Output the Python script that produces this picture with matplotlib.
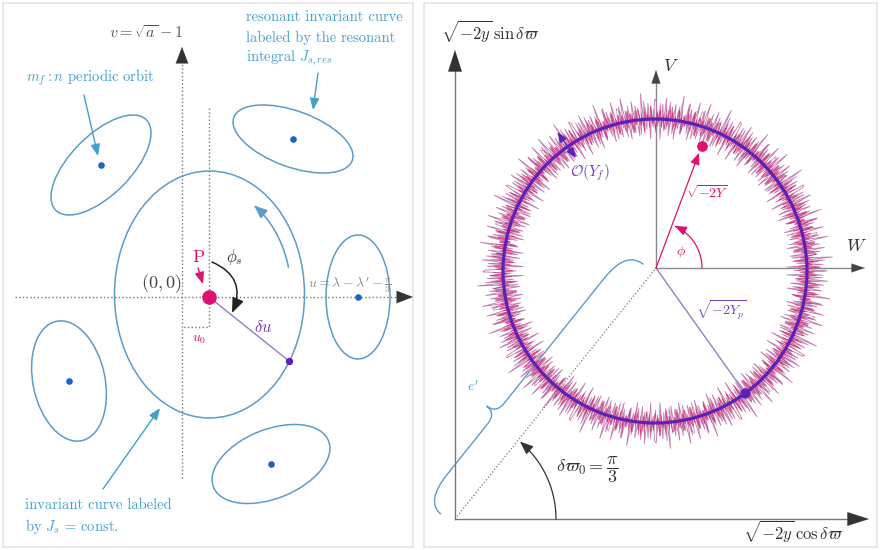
import matplotlib.pyplot as plt
import numpy as np
from matplotlib.patches import Ellipse, Rectangle, Circle, PathPatch
from matplotlib.path import Path

plt.rcParams['mathtext.fontset'] = 'cm'
plt.rcParams['font.family'] = ['cmr10', 'DejaVu Serif']

# ---- left panel geometry (pixel units, y down) ----
origin_l = (182, 297)
p_point = (209, 297)
big_ell = (209.5, 294.5, 190, 247)          # cx, cy, width, height
du_end = (289, 361)
res_x = [101, 293, 358, 69, 271]            # m_f:n periodic orbits
res_y = [165, 139, 297, 381, 464]
res_w = [128, 126, 64, 122, 124]
res_h = [60, 56, 124, 72, 69]
res_ang = [-45, 20, 0, 78, -22]

# ---- right panel geometry ----
origin_r = (455, 519)
center_r = (656, 268)
ring_c = (655, 271)
ring_r = 152
yf_angle, yf_r = 69.5, 130                  # magenta point
yp_angle = -53.6                            # purple point on the ring
noise = [0.9, -0.5, 0.3, -1.1, 0.7, -0.2, 0.5, -0.8, 1.2, -0.4, 0.15, -0.9, 0.6,
         -0.3, 0.85, -0.7, 0.25, -1.0, 0.4, -0.55, 1.1, -0.1, 0.7, -0.8, 0.3, -0.65,
         1.0, -0.2, 0.45, -0.95, 0.6, -0.35, 0.8, -0.3, 0.2, -0.75, 1.15, -0.5, 0.4,
         -1.05, 0.7, -0.15, 0.55, -0.9, 0.35, -0.6, 0.95, -0.25, 0.65, -1.1, 0.3,
         -0.45, 0.8]

blue_line = '#5b9cc6'
blue_txt = '#43a0cc'
blue_dot = '#1b62c2'
magenta = '#e0106e'
purple = '#5a22b8'
lpurple = '#9a7cc8'
grey = '#555555'

fig = plt.figure(figsize=(8.8, 5.5), dpi=100)
ax = fig.add_axes([0, 0, 1, 1])
ax.set_xlim(0, 880)
ax.set_ylim(550, 0)
ax.axis('off')

for x0, w in [(3, 410), (424, 453)]:
    ax.add_patch(Rectangle((x0, 3), w, 544, fill=False, ec='#e4e4e4', lw=1.2))


def arrow(tail, tip, color, lw=1.0, hl=1.0, hw=0.4, ms=8, conn='arc3', style='-|>'):
    ax.annotate('', xy=tip, xytext=tail,
                arrowprops=dict(arrowstyle=f'{style},head_length={hl},head_width={hw}',
                                color=color, lw=lw, mutation_scale=ms,
                                shrinkA=0, shrinkB=0, connectionstyle=conn))


def arc_pts(c, rx, ry, t0, t1, n=80):
    t = np.radians(np.linspace(t0, t1, n))
    return c[0] + rx * np.cos(t), c[1] - ry * np.sin(t)


def arc_arrow(c, rx, ry, t0, t1, color, lw=1.0, hl=1.0, hw=0.4, ms=8):
    x, y = arc_pts(c, rx, ry, t0, t1)
    ax.plot(x[:-3], y[:-3], color=color, lw=lw)
    arrow((x[-4], y[-4]), (x[-1], y[-1]), color, lw=lw, hl=hl, hw=hw, ms=ms)


# ================= left panel =================
# dotted axes
ax.plot([origin_l[0], origin_l[0]], [478, 60], ls=':', color='#777', lw=1.0)
arrow((origin_l[0], 62), (origin_l[0], 47), '#333', lw=0.1, hl=1.3, hw=0.5, ms=9)
ax.plot([15, 400], [origin_l[1], origin_l[1]], ls=':', color='#777', lw=1.0)
arrow((398, origin_l[1]), (413, origin_l[1]), '#333', lw=0.1, hl=1.3, hw=0.5, ms=9)
ax.plot([p_point[0], p_point[0], origin_l[0]], [108, 327, 327], ls=':', color='#777', lw=1.0)

# invariant curves
ax.add_patch(Ellipse(big_ell[:2], big_ell[2], big_ell[3], fill=False, ec=blue_line, lw=1.1))
for x, y, w, h, a in zip(res_x, res_y, res_w, res_h, res_ang):
    ax.add_patch(Ellipse((x, y), w, h, angle=a, fill=False, ec=blue_line, lw=1.1))
ax.scatter(res_x, res_y, s=14, color=blue_dot, zorder=5)

# flow direction inside the big curve
arc_arrow(big_ell[:2], 0.86 * big_ell[2] / 2, 0.86 * big_ell[3] / 2, 15, 57, blue_line, lw=1.1)

# P, delta u, phi_s
ax.plot([p_point[0], du_end[0]], [p_point[1], du_end[1]], color=lpurple, lw=1.0)
ax.scatter(*du_end, s=18, color=purple, zorder=5)
ax.scatter(*p_point, s=90, color=magenta, zorder=6)
arrow((212, 262), (232, 313), '#222', lw=1.1, conn='arc3,rad=-0.5', ms=9)
arrow((198, 268), (203, 284), magenta, lw=1.0, ms=7)

ax.text(183, 33, r'$v=\sqrt{a}-1$', ha='right', va='center', color=grey, fontsize=11.5)
ax.text(26, 78, r'$m_f:n$ periodic orbit', color=blue_txt, fontsize=10.5, va='center')
for i, s in enumerate(['resonant invariant curve', 'labeled by the resonant',
                       r'integral $J_{s,res}$']):
    ax.text(246, 17 + 20.5 * i, s, color=blue_txt, fontsize=10.5, va='center')
for i, s in enumerate(['invariant curve labeled', r'by $J_s$ = const.']):
    ax.text(25, 505 + 22 * i, s, color=blue_txt, fontsize=10.5, va='center')
arrow((84, 95), (98, 156), blue_txt, lw=1.0, ms=7)
arrow((318, 73), (313, 110), blue_txt, lw=1.0, ms=7)
arrow((103, 489), (160, 408), blue_txt, lw=1.0, ms=7)

ax.text(161, 284, r'$(0,0)$', ha='center', va='center', color='#444', fontsize=13)
ax.text(350, 285, r"$u=\lambda-\lambda'-\frac{\pi}{3}$", ha='center', va='center',
        color='#888', fontsize=10)
ax.text(198, 257, 'P', ha='center', va='center', color=magenta, fontsize=13)
ax.text(234, 257, r'$\phi_s$', ha='center', va='center', color='#333', fontsize=12)
ax.text(199, 340, r'$u_0$', ha='center', va='center', color=magenta, fontsize=10)
ax.text(263, 327, r'$\delta u$', ha='center', va='center', color='#7a3ab0', fontsize=12)

# ================= right panel =================
ox, oy = origin_r
cx, cy = center_r
ax.plot([ox, ox], [oy, 62], color='#777', lw=1.0)
arrow((ox, 70), (ox, 50), '#333', lw=0.1, hl=1.4, hw=0.45, ms=11)
ax.plot([ox, 852], [oy, oy], color='#777', lw=1.0)
arrow((850, oy), (869, oy), '#333', lw=0.1, hl=1.4, hw=0.45, ms=11)
ax.plot([cx, cx], [cy, 78], color='#888', lw=1.0)
arrow((cx, 80), (cx, 70), '#444', lw=0.1, hl=1.2, hw=0.4, ms=8)
ax.plot([cx, 856], [cy, cy], color='#888', lw=1.0)
arrow((855, cy), (865, cy), '#444', lw=0.1, hl=1.2, hw=0.4, ms=8)
ax.plot([ox, cx], [oy, cy], ls=':', color='#777', lw=0.9)

# noisy orbit around the ring
nz = np.array(noise)
reps = 12
n = len(nz) * reps
th = np.linspace(0, 2 * np.pi, n)
ra = ring_r + 2 + 20 * np.tile(nz, reps)
ax.plot(ring_c[0] + ra * np.cos(th), ring_c[1] - ra * np.sin(th), color='#c477ad', lw=0.6)
rc = ring_r + 1 + 15 * np.roll(np.tile(nz, reps), 23)
ax.plot(ring_c[0] + rc * np.cos(th + 0.005), ring_c[1] - rc * np.sin(th + 0.005),
        color='#b35a9c', lw=0.5, alpha=0.8)
rb = ring_r + 11 * np.roll(np.tile(nz[::-1], reps), 11)
ax.plot(ring_c[0] + rb * np.cos(th + 0.003), ring_c[1] - rb * np.sin(th + 0.003),
        color='#d81c66', lw=0.5, alpha=0.8)
ax.add_patch(Circle(ring_c, ring_r, fill=False, ec=purple, lw=2.3, zorder=4))

# Y vector and phase angle
a = np.radians(yf_angle)
pm = (cx + yf_r * np.cos(a), cy - yf_r * np.sin(a))
arrow((cx, cy), (cx + (yf_r - 7) * np.cos(a), cy - (yf_r - 7) * np.sin(a)), magenta, lw=0.9, ms=7)
ax.scatter(*pm, s=45, color=magenta, zorder=6)
arc_arrow((cx, cy), 46, 46, 0, 66, magenta, lw=0.9, ms=7)

b = np.radians(yp_angle)
pp = (ring_c[0] + ring_r * np.cos(b), ring_c[1] - ring_r * np.sin(b))
ax.plot([cx, pp[0]], [cy, pp[1]], color=lpurple, lw=1.0)
ax.scatter(*pp, s=40, color=purple, zorder=6)

# O(Y_f) width marker
g = np.radians(126)
arrow((cx + 136 * np.cos(g), cy - 136 * np.sin(g)), (cx + 168 * np.cos(g), cy - 168 * np.sin(g)),
      purple, lw=1.0, ms=6, style='<|-|>')

# e' brace along the dotted line
L = np.hypot(cx - ox, cy - oy)
u = np.array([cx - ox, cy - oy]) / L
nv = np.array([u[1], -u[0]])
brace_st = [(-5, 14), (-5, 34), (30, 34), (95, 34), (108, 34), (108, 46),
            (108, 34), (121, 34), (L - 40, 34), (L - 5, 34), (L - 5, 12)]
codes = [Path.MOVETO, Path.CURVE3, Path.CURVE3, Path.LINETO, Path.CURVE3, Path.CURVE3,
         Path.CURVE3, Path.CURVE3, Path.LINETO, Path.CURVE3, Path.CURVE3]
verts = [(ox + s * u[0] + t * nv[0], oy + s * u[1] + t * nv[1]) for s, t in brace_st]
ax.add_patch(PathPatch(Path(verts, codes), fill=False, ec=blue_line, lw=1.0))

arc_arrow((ox, oy), 101, 101, 0, 50, '#333', lw=0.9, ms=8)

ax.text(441, 32, r'$\sqrt{-2y}\,\sin\delta\varpi$', ha='left', va='center', color='#333', fontsize=12)
ax.text(843, 532, r'$\sqrt{-2y}\,\cos\delta\varpi$', ha='right', va='center', color='#333', fontsize=12)
ax.text(671, 66, r'$V$', ha='center', va='center', color='#333', fontsize=13)
ax.text(856, 246, r'$W$', ha='center', va='center', color='#333', fontsize=13)
ax.text(590, 173, r'$\mathcal{O}(Y_f)$', ha='center', va='center', color='#7a3ec0', fontsize=11)
ax.text(707, 193, r'$\sqrt{-2Y}$', ha='center', va='center', color=magenta, fontsize=10)
ax.text(681, 252, r'$\phi$', ha='center', va='center', color=magenta, fontsize=10)
ax.text(721, 310, r'$\sqrt{-2Y_p}$', ha='center', va='center', color='#7a3ec0', fontsize=10)
ax.text(473, 387, r"$e'$", ha='center', va='center', color=blue_txt, fontsize=10)
ax.text(587, 470, r'$\delta\varpi_0=\dfrac{\pi}{3}$', ha='center', va='center', color='#333', fontsize=13)

fig.savefig('out.png', dpi=100)
